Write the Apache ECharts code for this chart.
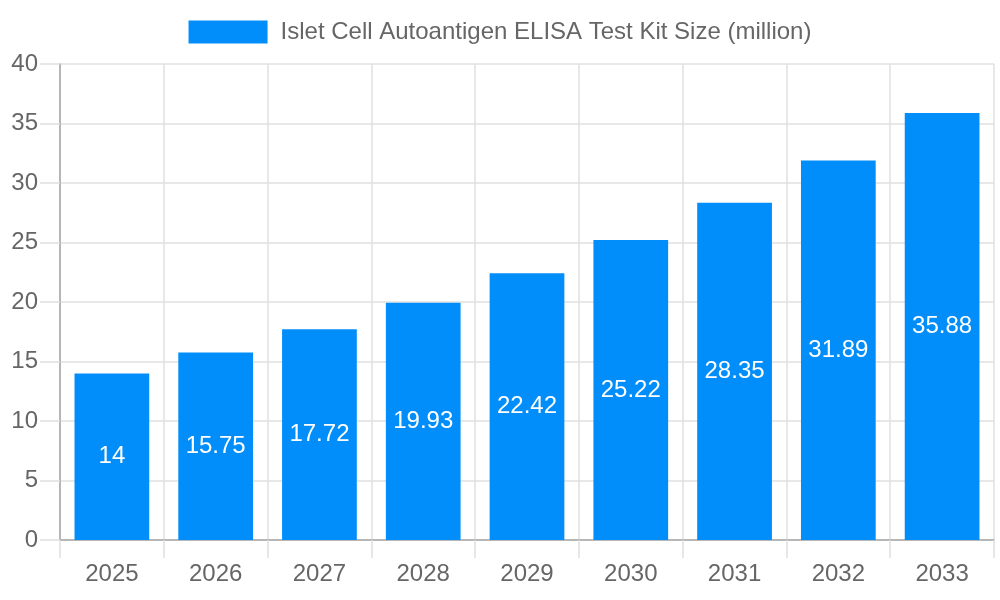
<!DOCTYPE html>
<html>
<head>
<meta charset="utf-8">
<script src="https://cdn.jsdelivr.net/npm/echarts@6/dist/echarts.min.js"></script>
<style>html,body{margin:0;padding:0;background:#fff}#c{width:1000px;height:600px}</style>
</head>
<body>
<div id="c"></div>
<script>
const categories = ['2025','2026','2027','2028','2029','2030','2031','2032','2033'];
const sizeValues = [14, 15.75, 17.72, 19.93, 22.42, 25.22, 28.35, 31.89, 35.88];
const seriesName = 'Islet Cell Autoantigen ELISA Test Kit Size (million)';
const yTicks = [0, 5, 10, 15, 20, 25, 30, 35, 40];

const chart = echarts.init(document.getElementById('c'));
const font = '"Liberation Sans", Arial, sans-serif';
chart.setOption({
  animation: false,
  textStyle: { fontFamily: font },
  legend: {
    top: 15,
    left: 'center',
    icon: 'rect',
    itemWidth: 79,
    itemHeight: 23,
    itemGap: 10,
    textStyle: { fontSize: 24, color: '#666', fontFamily: font, padding: [0, 0, 0, 8] },
    data: [seriesName]
  },
  grid: { left: 60, right: 6, top: 64, bottom: 60, containLabel: false },
  xAxis: {
    type: 'category',
    data: categories,
    boundaryGap: true,
    axisLine: { lineStyle: { color: '#a6a6a6', width: 1.5 } },
    axisTick: { show: true, length: 18, lineStyle: { color: '#e0e0e0', width: 1.5 } },
    axisLabel: { fontSize: 24, color: '#666', margin: 22, fontFamily: font },
    splitLine: { show: true, lineStyle: { color: '#e0e0e0', width: 1.5 } }
  },
  yAxis: {
    type: 'value',
    min: yTicks[0],
    max: yTicks[yTicks.length - 1],
    interval: 5,
    axisLine: { show: true, lineStyle: { color: '#a6a6a6', width: 1.5 } },
    axisTick: { show: true, length: 20, lineStyle: { color: '#e0e0e0', width: 1.5 } },
    axisLabel: { fontSize: 24, color: '#666', margin: 22, fontFamily: font },
    splitLine: { show: true, lineStyle: { color: '#e0e0e0', width: 1.5 } }
  },
  series: [{
    name: seriesName,
    type: 'bar',
    data: sizeValues,
    barCategoryGap: '28%',
    itemStyle: { color: '#018DFA' },
    label: {
      show: true,
      position: 'inside',
      color: '#fff',
      fontSize: 24,
      fontFamily: font
    }
  }]
});
</script>
</body>
</html>
